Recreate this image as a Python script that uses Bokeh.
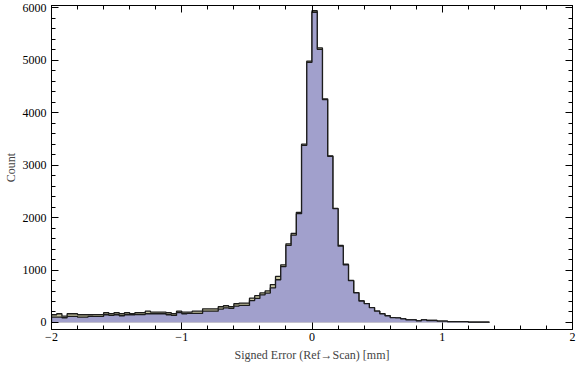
from bokeh.plotting import figure
from bokeh.models import Range1d, FixedTicker, LinearAxis
from bokeh.embed import file_html
from bokeh.resources import INLINE

# Histogram bins (width 0.04 starting at -2.0)
bin_start = -2.0
bin_width = 0.04

# Counts per bin
counts_all = [147, 166, 120, 166, 166, 147, 147, 147, 150, 150,
              185, 166, 185, 166, 185, 166, 185, 185, 216, 197,
              197, 197, 185, 166, 216, 197, 197, 216, 216, 261,
              261, 261, 300, 319, 300, 357, 369, 369, 464, 512,
              564, 602, 722, 878, 1100, 1500, 1700, 2100, 3400, 4985,
              5945, 5235, 4265, 3178, 2175, 1470, 1110, 802, 569, 412,
              361, 284, 217, 167, 129, 93, 89, 71, 52, 52,
              33, 52, 39, 39, 26, 26, 16, 16, 16, 16,
              7, 7, 7, 7]
counts_sub = [101, 101, 90, 115, 115, 101, 101, 115, 115, 115,
              147, 134, 147, 128, 147, 147, 150, 150, 166, 166,
              166, 166, 147, 134, 190, 166, 172, 172, 172, 216,
              216, 216, 255, 280, 270, 312, 325, 325, 417, 458,
              528, 560, 660, 815, 1065, 1470, 1666, 2074, 3378, 4962,
              5916, 5210, 4250, 3168, 2170, 1456, 1097, 798, 567, 410,
              360, 283, 216, 166, 128, 92, 88, 70, 51, 51,
              32, 51, 38, 38, 25, 25, 15, 15, 15, 15,
              6, 6, 6, 6]

x_major = [-2, -1, 0, 1, 2]
x_minor = [-1.8, -1.6, -1.4, -1.2, -0.8, -0.6, -0.4, -0.2,
           0.2, 0.4, 0.6, 0.8, 1.2, 1.4, 1.6, 1.8]
y_major = [0, 1000, 2000, 3000, 4000, 5000, 6000]
y_minor = [200, 400, 600, 800, 1200, 1400, 1600, 1800, 2200, 2400, 2600, 2800,
           3200, 3400, 3600, 3800, 4200, 4400, 4600, 4800, 5200, 5400, 5600, 5800]

n = len(counts_sub)
edges = [round(bin_start + i * bin_width, 4) for i in range(n + 1)]
lefts = edges[:-1]
rights = edges[1:]


def outline(counts):
    xs, ys = [edges[0]], [0]
    for l, r, c in zip(lefts, rights, counts):
        xs += [l, r]
        ys += [c, c]
    xs.append(edges[-1])
    ys.append(0)
    return xs, ys


FONT = "Liberation Serif"
KHAKI = "#C9C7A2"
BLUE = "#A1A0CC"
EDGE = "#1c1c1c"

p = figure(width=576, height=369, x_range=Range1d(-2, 2), y_range=Range1d(-134, 6045),
           output_backend="svg", toolbar_location=None,
           min_border_left=48, min_border_right=4, min_border_top=5, min_border_bottom=40)
p.xgrid.visible = False
p.ygrid.visible = False
p.outline_line_color = "#000000"
p.background_fill_color = "white"
p.border_fill_color = "white"

xa, ya = outline(counts_all)
p.patch(xa, ya, fill_color=KHAKI, line_color=None)
p.line(xa, ya, line_color=EDGE, line_width=1.3)
xb, yb = outline(counts_sub)
p.patch(xb, yb, fill_color=BLUE, line_color=None)
p.line(xb, yb, line_color=EDGE, line_width=1.3)


def style_axis(ax, ticks, minor, show_labels):
    ax.ticker = FixedTicker(ticks=ticks, minor_ticks=minor)
    ax.major_tick_in = 7
    ax.major_tick_out = 0
    ax.minor_tick_in = 4
    ax.minor_tick_out = 0
    ax.axis_line_color = "#000000"
    ax.major_tick_line_color = "#000000"
    ax.minor_tick_line_color = "#000000"
    ax.major_label_text_font = FONT
    ax.major_label_text_color = "#000000"
    ax.major_label_text_font_size = "12px"
    if show_labels:
        ax.major_label_standoff = 3
    else:
        ax.major_label_overrides = {t: "" for t in ticks}
        ax.major_label_standoff = 0


xb_ax = p.xaxis[0]
style_axis(xb_ax, x_major, x_minor, True)
xb_ax.major_label_overrides = {-2: "\u22122", -1: "\u22121"}
xb_ax.major_label_standoff = 3
xb_ax.axis_label = "Signed Error (Ref\u2192Scan) [mm]"
xb_ax.axis_label_text_font = FONT
xb_ax.axis_label_text_font_size = "12px"
xb_ax.axis_label_text_font_style = "normal"
xb_ax.axis_label_standoff = 4

yl_ax = p.yaxis[0]
style_axis(yl_ax, y_major, y_minor, True)
yl_ax.major_label_standoff = 5
yl_ax.axis_label = "Count"
yl_ax.axis_label_text_font = FONT
yl_ax.axis_label_text_font_size = "12px"
yl_ax.axis_label_text_font_style = "normal"
yl_ax.axis_label_standoff = 2

top_ax = LinearAxis()
style_axis(top_ax, x_major, x_minor, False)
p.add_layout(top_ax, "above")
right_ax = LinearAxis()
style_axis(right_ax, y_major, y_minor, False)
p.add_layout(right_ax, "right")

open("out.html", "w").write(file_html(p, INLINE))
